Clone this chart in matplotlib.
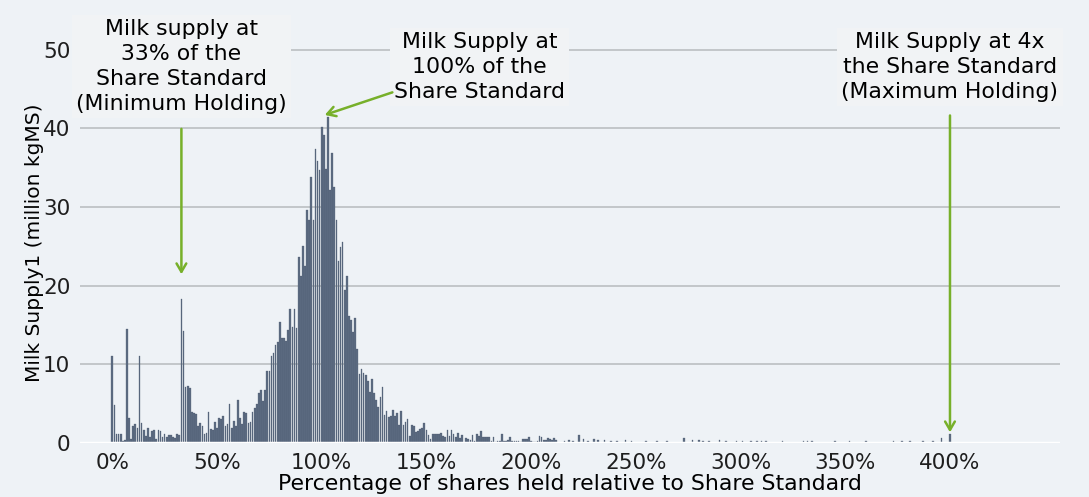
import numpy as np
import matplotlib
matplotlib.use("Agg")
import matplotlib.pyplot as plt
from matplotlib.ticker import FuncFormatter

# milk supply (million kgMS) for each 1% bucket of shares held, 0% .. 212%
supply_main = [
    11.0, 4.8, 1.2, 1.1, 1.2, 0.3, 0.4, 14.5, 3.2, 0.5,
    2.1, 2.4, 1.9, 11.1, 2.6, 1.6, 0.9, 1.9, 0.8, 1.5,
    1.6, 0.5, 1.6, 1.5, 0.7, 1.1, 0.7, 1.0, 1.0, 0.8,
    0.6, 1.2, 1.0, 18.3, 14.2, 7.1, 7.2, 7.0, 3.9, 3.8,
    3.7, 2.2, 2.6, 2.1, 1.2, 1.3, 3.9, 1.8, 1.6, 2.7,
    1.9, 3.2, 3.0, 3.4, 2.1, 2.4, 5.0, 1.9, 2.8, 2.1,
    5.5, 3.2, 2.4, 3.9, 3.8, 2.6, 2.7, 3.9, 4.4, 5.0,
    6.4, 6.8, 5.3, 6.8, 9.2, 9.2, 11.0, 11.5, 12.5, 12.8,
    15.4, 13.4, 13.4, 13.0, 14.4, 17.0, 14.7, 17.1, 14.6, 23.6,
    21.2, 25.0, 22.5, 29.6, 28.4, 33.8, 28.4, 37.4, 35.8, 34.7,
    40.2, 39.2, 34.9, 41.5, 32.2, 36.9, 32.6, 28.4, 23.2, 24.9,
    25.5, 19.4, 21.2, 16.2, 15.6, 14.1, 15.9, 12.0, 8.8, 9.4,
    8.9, 8.7, 7.9, 6.5, 8.1, 6.4, 5.5, 4.6, 5.8, 7.1,
    3.6, 4.1, 3.3, 3.4, 4.2, 3.4, 3.8, 2.3, 4.1, 2.3,
    2.7, 3.0, 0.9, 2.3, 2.1, 1.4, 1.5, 1.8, 1.9, 2.5,
    1.7, 1.0, 0.5, 1.2, 1.1, 1.2, 1.1, 1.3, 0.9, 0.7,
    1.7, 0.9, 1.7, 1.2, 0.7, 1.3, 0.6, 1.0, 0.0, 0.6,
    0.5, 0.4, 1.0, 0.2, 1.1, 0.9, 1.5, 0.7, 0.7, 0.7,
    0.7, 0.2, 0.7, 0.1, 0.2, 0.2, 1.1, 0.3, 0.3, 0.4,
    0.8, 0.3, 0.2, 0.2, 0.2, 0.1, 0.5, 0.5, 0.5, 0.8,
    0.3, 0.1, 0.1, 0.2, 0.9, 0.8, 0.4, 0.4, 0.6, 0.5,
    0.4, 0.6, 0.4,
]
pct_main = list(range(len(supply_main)))

# sparse tail of the distribution
pct_tail = [216, 218, 220, 223, 225, 227, 230, 232, 235, 238, 241, 245, 248,
            255, 260, 265, 273, 277, 280, 282, 285, 290, 293, 298, 301, 305,
            308, 310, 312, 320, 330, 332, 334, 345, 352, 360, 373, 377, 381,
            387, 392, 396, 400]
supply_tail = [0.3, 0.4, 0.3, 1.0, 0.5, 0.3, 0.5, 0.4, 0.4, 0.3, 0.3, 0.4, 0.2,
               0.2, 0.2, 0.2, 0.6, 0.4, 0.4, 0.3, 0.3, 0.4, 0.3, 0.3, 0.2, 0.3,
               0.3, 0.2, 0.3, 0.3, 0.3, 0.2, 0.2, 0.2, 0.3, 0.2, 0.3, 0.2, 0.3,
               0.3, 0.2, 0.6, 1.1]

x_ticks = [0, 50, 100, 150, 200, 250, 300, 350, 400]
y_ticks = [0, 10, 20, 30, 40, 50]

bg = "#eef2f6"
green = "#77b02a"
fs = 15.8

fig = plt.figure(figsize=(10.89, 4.97), dpi=100, facecolor=bg)
ax = fig.add_axes([0.0735, 0.1087, 0.9, 0.8813], facecolor=bg)

ax.bar(pct_main + pct_tail, supply_main + supply_tail, width=0.8,
       color="#5d6c83", edgecolor="#4a576b", linewidth=0.2, zorder=2)

ax.set_xlim(-15.4, 452.6)
ax.set_ylim(0, 55.7)
ax.set_xticks(x_ticks)
ax.set_yticks(y_ticks)
ax.xaxis.set_major_formatter(FuncFormatter(lambda v, p: f"{v:.0f}%"))
ax.tick_params(length=0, labelsize=15.5, colors="#1e1e1e", pad=7)
ax.grid(axis="y", color="#b7babd", linewidth=1.1, zorder=0)
ax.axhline(0, color="white", linewidth=2.5, zorder=3)
for s in ax.spines.values():
    s.set_visible(False)

ax.set_xlabel("Percentage of shares held relative to Share Standard", fontsize=fs, labelpad=1)
ax.set_ylabel("Milk Supply1 (million kgMS)", fontsize=14.5)
ax.yaxis.set_label_coords(-0.037, 0.457)

box = dict(boxstyle="square,pad=0.2", facecolor="#f1f3f5", edgecolor="none")
arrow = dict(arrowstyle="->,head_length=0.6,head_width=0.35", color=green, lw=1.8)

ax.text(33, 47.9, "Milk supply at\n33% of the\nShare Standard\n(Minimum Holding)",
        ha="center", va="center", fontsize=fs, linespacing=1.3, bbox=box, zorder=5)
ax.annotate("", xy=(33, 21.1), xytext=(33, 40.3), arrowprops=arrow, zorder=6)

ax.text(175.3, 47.8, "Milk Supply at\n100% of the\nShare Standard",
        ha="center", va="center", fontsize=fs, linespacing=1.3, bbox=box, zorder=5)
ax.annotate("", xy=(100.2, 41.6), xytext=(135, 44.7), arrowprops=arrow, zorder=6)

ax.text(400, 47.8, "Milk Supply at 4x\nthe Share Standard\n(Maximum Holding)",
        ha="center", va="center", fontsize=fs, linespacing=1.3, bbox=box, zorder=5)
ax.annotate("", xy=(400, 1.0), xytext=(400, 42.0), arrowprops=arrow, zorder=6)

fig.savefig("out.png", dpi=100, facecolor=bg)
